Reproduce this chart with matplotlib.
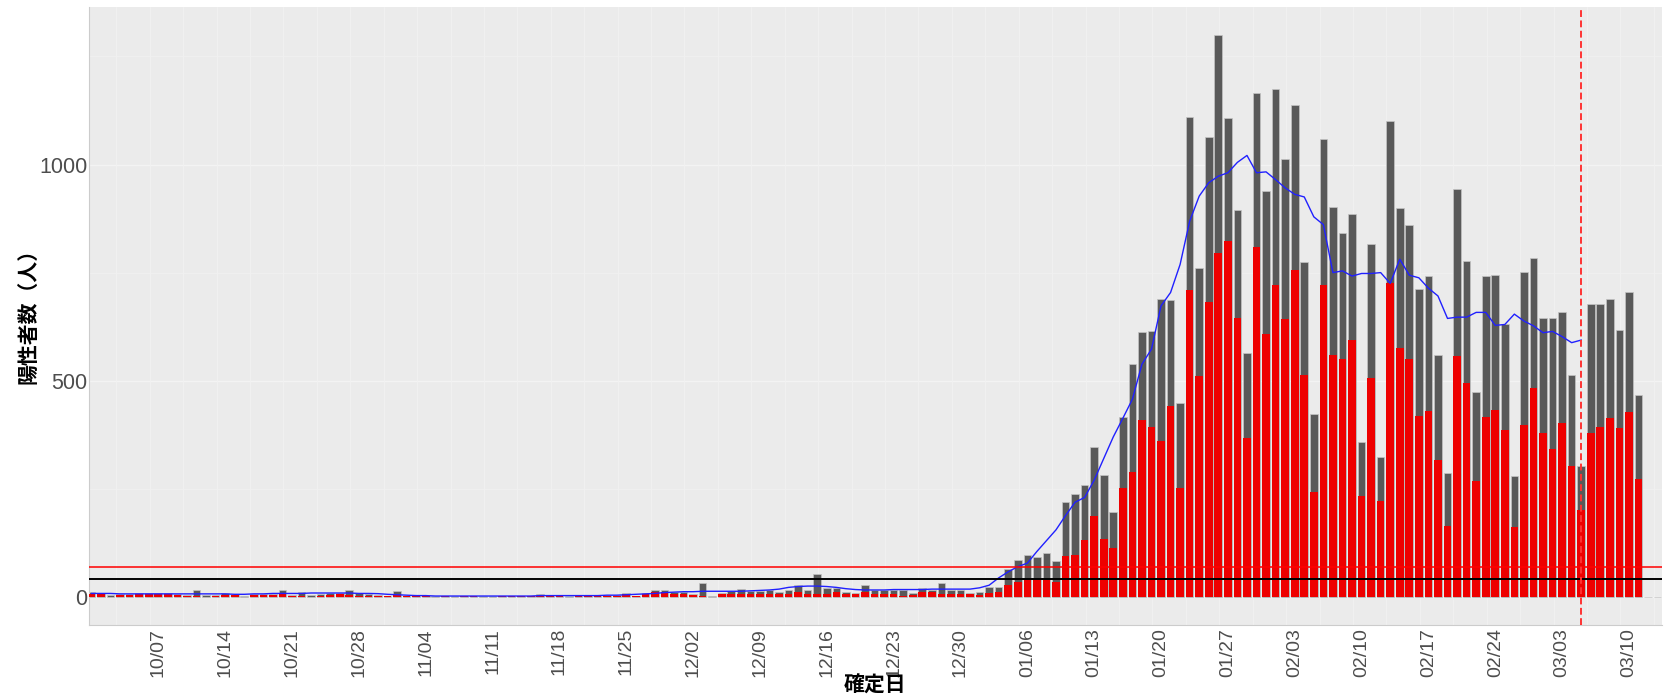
import matplotlib
matplotlib.use('Agg')
import matplotlib.pyplot as plt
import matplotlib.dates as mdates
import pandas as pd

# ---------------- data ----------------
start_date = '2020-09-30'

totals = [
    # 09/30 - 11/02
    12, 8, 4, 6, 7, 8, 9, 9, 8, 6, 5, 15, 4, 5, 10, 5, 2, 7, 6, 6,
    17, 5, 11, 5, 6, 8, 10, 15, 8, 6, 4, 3, 14, 3,
    # 11/03 - 11/24
    2, 2, 1, 2, 1, 2, 2, 1, 1, 2, 2, 3, 2, 6, 2, 2, 1, 2, 2, 3, 4, 4,
    # 11/25 - 01/03
    9, 3, 8, 15, 15, 12, 12, 7, 31, 1, 9, 14, 18, 14, 13, 17, 11, 17, 27, 17,
    52, 20, 20, 12, 9, 27, 15, 15, 17, 16, 8, 20, 17, 32, 17, 17, 9, 12, 22, 24,
    # 01/04 - 03/11
    65, 85, 98, 92, 101, 82, 219, 239, 258, 346,
    283, 196, 415, 538, 613, 614, 690, 686, 448, 1109,
    761, 1063, 1300, 1108, 894, 565, 1166, 938, 1175, 1012,
    1137, 775, 423, 1058, 902, 842, 885, 358, 817, 323,
    1100, 899, 859, 713, 742, 560, 286, 944, 778, 473,
    742, 744, 630, 279, 752, 784, 644, 644, 660, 513,
    303, 678, 678, 688, 617, 705, 467,
    # 03/12 - 03/13
    0, 0,
]

reds = [
    6, 6, 0, 4, 5, 7, 7, 7, 6, 4, 2, 3, 0, 3, 5, 4, 0, 5, 5, 5,
    6, 3, 3, 0, 3, 5, 6, 5, 3, 2, 1, 2, 4, 1,
    1, 1, 0, 1, 0, 1, 1, 0, 0, 1, 1, 1, 1, 3, 1, 1, 0, 1, 1, 1, 2, 2,
    6, 2, 6, 11, 11, 6, 6, 5, 3, 0, 6, 6, 6, 6, 7, 6, 6, 7, 11, 7,
    7, 6, 11, 6, 7, 11, 7, 7, 7, 3, 5, 12, 11, 7, 7, 7, 6, 4, 9, 12,
    28, 35, 42, 42, 39, 35, 95, 97, 132, 186,
    134, 113, 252, 290, 410, 394, 360, 441, 252, 709,
    510, 682, 796, 824, 644, 367, 810, 607, 721, 642,
    755, 513, 243, 721, 560, 551, 594, 233, 506, 221,
    727, 576, 551, 419, 431, 316, 164, 557, 494, 269,
    415, 433, 386, 162, 397, 484, 380, 342, 403, 302,
    201, 380, 394, 413, 391, 427, 273,
    0, 0,
]

avg7 = [
    8, 8, 8, 7, 7, 7, 7, 7, 7, 7, 7, 7, 7, 7, 7, 6, 6, 7, 7, 8,
    8, 8, 8, 9, 9, 9, 9, 9, 8, 8, 7.5, 6, 5, 4,
    3, 3, 2, 2, 2, 2, 2, 2, 2, 2, 2, 2, 2, 3, 3, 3, 3, 3, 3, 3, 4, 4,
    5, 6, 7, 8, 10, 11, 12, 12, 13, 13, 13, 13, 13, 14, 15, 16, 18,
    22, 24, 25, 25, 24, 22, 19,
    17, 16, 16, 16, 17, 17, 17, 17, 18, 18, 18, 18, 18, 21, 27,
    44, 58, 70, 78, 105, 130, 155, 188, 219, 230, 270, 320, 370, 413,
    457, 538, 573, 673, 704, 769, 869, 927, 958, 973,
    981, 1005, 1021, 981, 983, 965, 946, 931, 925, 879,
    861, 750, 754, 742, 748, 748, 750, 725, 781, 744,
    738, 714, 696, 644, 647, 647, 658, 658, 628, 630,
    654, 638, 627, 611, 614, 602, 588, 594,
]

tick_labels = ['10/07', '10/14', '10/21', '10/28', '11/04', '11/11', '11/18',
               '11/25', '12/02', '12/09', '12/16', '12/23', '12/30', '01/06',
               '01/13', '01/20', '01/27', '02/03', '02/10', '02/17', '02/24',
               '03/03', '03/10']
y_ticks = [0, 500, 1000]
threshold_red = 70
threshold_black = 41
marker_date = '2021-03-05'

# ---------------- figure ----------------
W, H = 1667, 698
fig = plt.figure(figsize=(W / 100, H / 100), dpi=100)
left, right, top, bottom = 89.3, 1662, 6.7, 625
ax = fig.add_axes([left / W, 1 - bottom / H, (right - left) / W, (bottom - top) / H])
ax.set_facecolor('#EBEBEB')

dates = pd.date_range(start_date, periods=len(totals))
x = mdates.date2num(dates)
x0 = x[0]

# faint grid
for g in [250, 750, 1250]:
    ax.axhline(g, color='#F1F1F1', lw=0.5, zorder=0.5)
for g in [0, 500, 1000]:
    ax.axhline(g, color='#F3F3F3', lw=0.9, zorder=0.5)
k = 0
while 2.6 + 3.5 * k < 166:
    ax.axvline(x0 + 2.6 + 3.5 * k, color='#F1F1F1', lw=0.6, zorder=0.5)
    k += 1

ax.bar(x, totals, width=0.8, color='#595959', edgecolor='#C4C4C4',
       linewidth=0.5, zorder=2)
ax.bar(x, reds, width=0.8, color='#EE0000', edgecolor='none', zorder=3)

ax.plot(x[:len(avg7)], avg7, color='#2020FF', lw=1.0, zorder=4)
ax.axhline(threshold_red, color='#FF0000', lw=1.1, zorder=5)
ax.axhline(threshold_black, color='black', lw=1.4, zorder=5)
ax.axvline(mdates.date2num(pd.Timestamp(marker_date)), color='#FF3333',
           lw=1.4, ls=(0, (3.5, 1.8)), zorder=6)

ax.set_xlim(x0 - 0.225, x0 + 164.46)
ax.set_ylim(-65, 1365)

tick_pos = mdates.date2num(pd.date_range('2020-10-07', periods=len(tick_labels), freq='7D'))
ax.set_xticks(tick_pos)
ax.set_xticklabels(tick_labels, rotation=90, fontsize=14, color='#4D4D4D',
                   family='Liberation Sans', ha='center', va='top')
ax.set_yticks(y_ticks)
ax.set_yticklabels([str(v) for v in y_ticks], fontsize=15.5, color='#4D4D4D',
                   family='Liberation Sans')
ax.tick_params(axis='x', length=0, pad=2.2)
ax.tick_params(axis='y', length=0, pad=1.5)

for s in ['top', 'right']:
    ax.spines[s].set_visible(False)
for s in ['left', 'bottom']:
    ax.spines[s].set_color('#CCCCCC')
    ax.spines[s].set_linewidth(0.8)

fig.text(27.5 / W, 1 - 311 / H, '陽性者数（人）', rotation=90, ha='center', va='center',
         fontsize=15, fontweight='bold', family=['Noto Sans CJK JP', 'DejaVu Sans'])
fig.text(875 / W, 1 - 685 / H, '確定日', ha='center', va='center',
         fontsize=15, fontweight='bold', family=['Noto Sans CJK JP', 'DejaVu Sans'])

fig.savefig('out.png', dpi=100, facecolor='white')
